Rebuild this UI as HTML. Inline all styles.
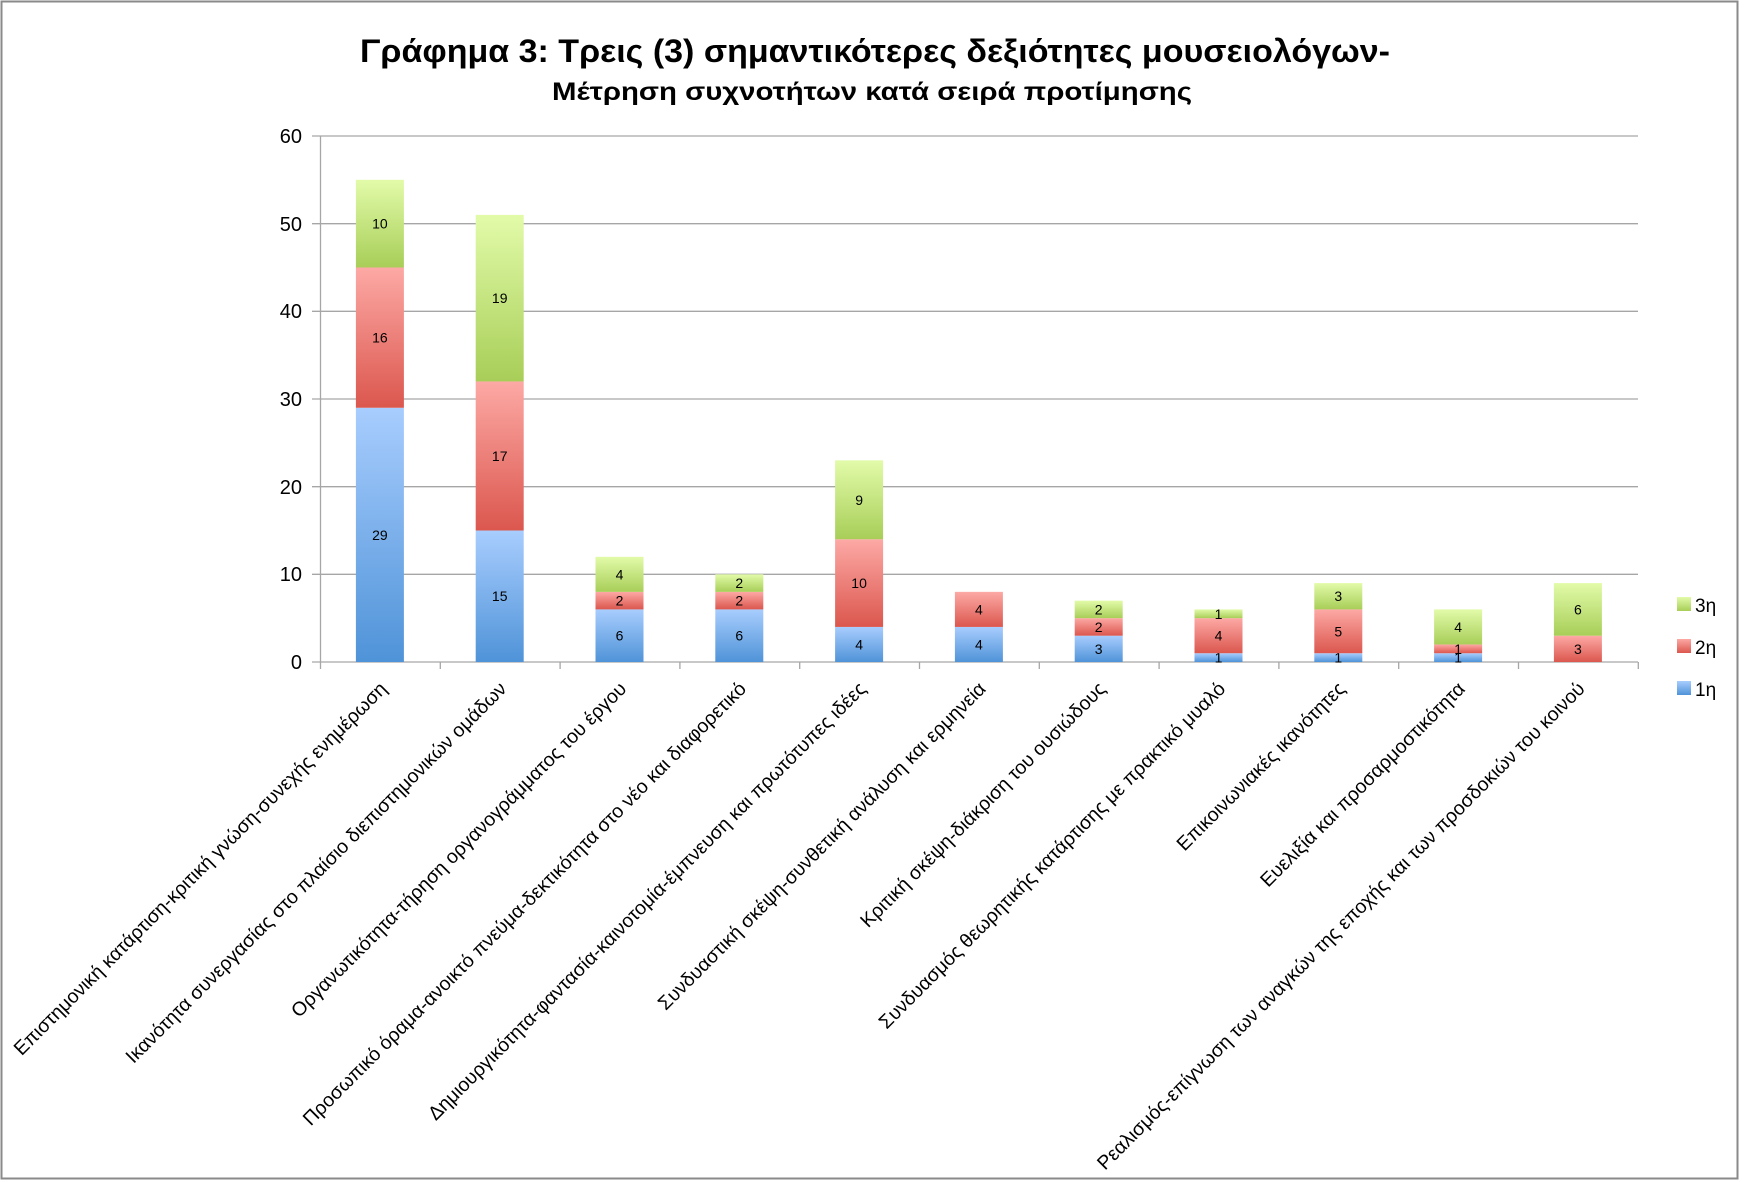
<!DOCTYPE html>
<html><head><meta charset="utf-8"><style>
html,body{margin:0;padding:0;background:#fff;}
svg{display:block;font-family:"Liberation Sans","DejaVu Sans",sans-serif;}
</style></head><body>
<svg width="1744" height="1182" viewBox="0 0 1744 1182" xmlns="http://www.w3.org/2000/svg">
<defs>
<linearGradient id="gb" x1="0" y1="0" x2="0" y2="1"><stop offset="0" stop-color="#a8cdfe"/><stop offset="1" stop-color="#4f93d8"/></linearGradient>
<linearGradient id="gr" x1="0" y1="0" x2="0" y2="1"><stop offset="0" stop-color="#fda9a5"/><stop offset="1" stop-color="#db574e"/></linearGradient>
<linearGradient id="gg" x1="0" y1="0" x2="0" y2="1"><stop offset="0" stop-color="#e2fba9"/><stop offset="1" stop-color="#a8ce58"/></linearGradient>
</defs>
<rect x="1.5" y="1.5" width="1736" height="1177" fill="#fff" stroke="#8a8a8a" stroke-width="2"/>
<text x="875" y="62" text-anchor="middle" font-weight="bold" font-size="32" textLength="1030" lengthAdjust="spacingAndGlyphs">Γράφημα 3: Τρεις (3) σημαντικότερες δεξιότητες μουσειολόγων-</text>
<text x="872" y="100" text-anchor="middle" font-weight="bold" font-size="25" textLength="640" lengthAdjust="spacingAndGlyphs">Μέτρηση συχνοτήτων κατά σειρά προτίμησης</text>
<g stroke="#a6a6a6" stroke-width="1.3">
<line x1="312" y1="136" x2="1638" y2="136"/>
<line x1="312" y1="223.7" x2="1638" y2="223.7"/>
<line x1="312" y1="311.3" x2="1638" y2="311.3"/>
<line x1="312" y1="399" x2="1638" y2="399"/>
<line x1="312" y1="486.7" x2="1638" y2="486.7"/>
<line x1="312" y1="574.3" x2="1638" y2="574.3"/>
<line x1="320.5" y1="136" x2="320.5" y2="662"/>
<line x1="312" y1="662" x2="1638" y2="662"/>
</g>
<g stroke="#a6a6a6" stroke-width="1.3" id="ticks"></g>
<g font-size="20" text-anchor="end" fill="#000">
<text x="302" y="143">60</text><text x="302" y="231">50</text><text x="302" y="318">40</text>
<text x="302" y="406">30</text><text x="302" y="494">20</text><text x="302" y="581">10</text><text x="302" y="669">0</text>
</g>
<g id="bars"></g>
<g id="labels" font-size="19.5" text-anchor="end"></g>
<rect x="1677" y="597" width="14" height="14" fill="url(#gg)"/>
<text x="1695" y="612" font-size="19">3η</text>
<rect x="1677" y="639" width="14" height="14" fill="url(#gr)"/>
<text x="1695" y="654" font-size="19">2η</text>
<rect x="1677" y="681" width="14" height="14" fill="url(#gb)"/>
<text x="1695" y="696" font-size="19">1η</text>
<script>
var data=[[29,16,10],[15,17,19],[6,2,4],[6,2,2],[4,10,9],[4,4,0],[3,2,2],[1,4,1],[1,5,3],[1,1,4],[0,3,6]];
var labs=["Επιστημονική κατάρτιση-κριτική γνώση-συνεχής ενημέρωση","Ικανότητα συνεργασίας στο πλαίσιο διεπιστημονικών ομάδων","Οργανωτικότητα-τήρηση οργανογράμματος του έργου","Προσωπικό όραμα-ανοικτό πνεύμα-δεκτικότητα στο νέο και διαφορετικό","Δημιουργικότητα-φαντασία-καινοτομία-έμπνευση και πρωτότυπες ιδέες","Συνδυαστική σκέψη-συνθετική ανάλυση και ερμηνεία","Κριτική σκέψη-διάκριση του ουσιώδους","Συνδυασμός θεωρητικής κατάρτισης με πρακτικό μυαλό","Επικοινωνιακές ικανότητες","Ευελιξία και προσαρμοστικότητα","Ρεαλισμός-επίγνωση των αναγκών της εποχής και των προσδοκιών του κοινού"];
var NS="http://www.w3.org/2000/svg",bars=document.getElementById("bars"),L=document.getElementById("labels"),T=document.getElementById("ticks");
var fills=["url(#gb)","url(#gr)","url(#gg)"],k=8.767,w=119.8;
function el(n,a,p){var e=document.createElementNS(NS,n);for(var x in a)e.setAttribute(x,a[x]);p.appendChild(e);return e;}
for(var t=0;t<=11;t++){var tx=320.5+t*w;el("line",{x1:tx,y1:662,x2:tx,y2:669},T);}
for(var i=0;i<11;i++){var cx=320+(i+0.5)*w,base=0;
 for(var s=0;s<3;s++){var v=data[i][s];if(!v)continue;var y0=662-base*k,y1=662-(base+v)*k;
  el("rect",{x:cx-24,y:y1,width:48,height:y0-y1,fill:fills[s]},bars);
  var tt=el("text",{x:cx,y:(y0+y1)/2+5,"text-anchor":"middle","font-size":"14"},bars);tt.textContent=v;base+=v;}
 var lt=el("text",{transform:"translate("+(cx+8)+",690) rotate(-45)"},L);lt.textContent=labs[i];}
</script>
</svg>
</body></html>
